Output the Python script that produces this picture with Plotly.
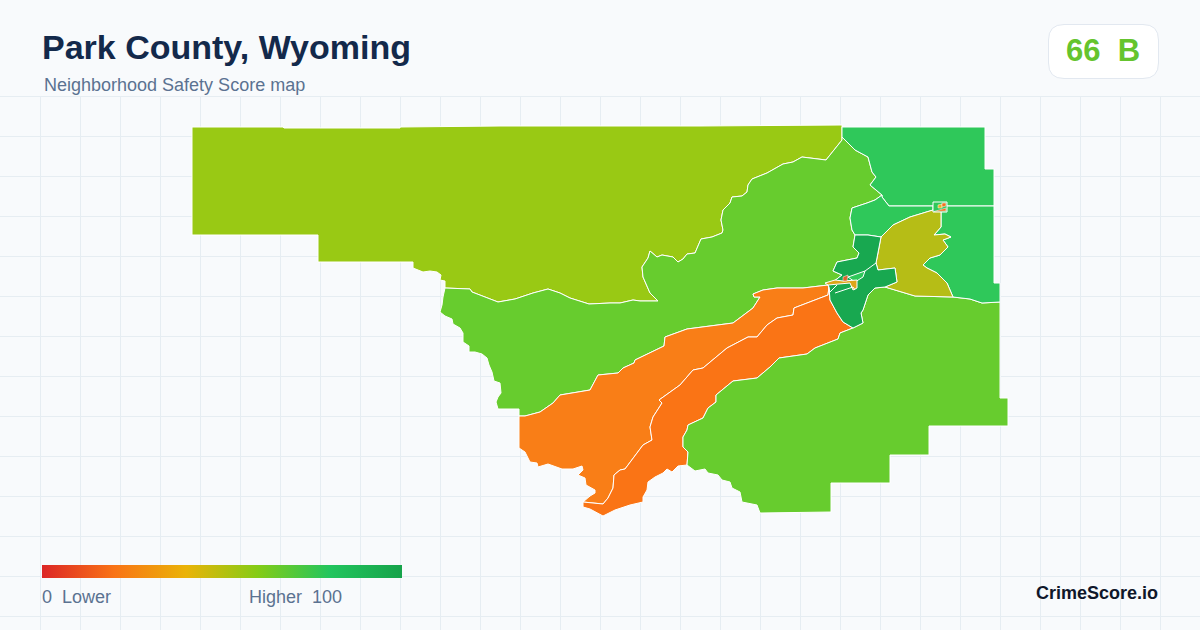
import plotly.graph_objects as go

# page colours
BG = "#f8fafc"
GRID = "#e6edf2"
NAVY = "#13294b"
SLATE = "#5b7291"

# map is traced in picture coordinates, borders shared between areas live in their own lists
nw_lime_border = [(842, 137), (842, 140), (826, 160), (808, 158), (802, 157), (793, 162), (783, 164), (767, 173),
                  (752, 179), (748, 185), (747, 192), (742, 196), (732, 197), (730, 203), (723, 210), (721, 220),
                  (723, 230), (722, 233), (712, 237), (701, 239), (695, 253), (687, 254), (683, 259), (678, 262),
                  (673, 257), (662, 255), (657, 257), (650, 251), (648, 258), (642, 267), (643, 277), (650, 293),
                  (658, 301), (640, 301), (633, 300), (620, 303), (610, 303), (589, 304), (580, 301), (570, 298),
                  (560, 293), (548, 289), (533, 293), (515, 299), (498, 302), (485, 297), (472, 292), (470, 289),
                  (455, 288), (445, 288)]
nw_outer = [(445, 281), (440, 280), (441, 275), (437, 272), (430, 271), (423, 272), (413, 268), (413, 262),
            (318, 262), (318, 235), (192, 235), (192, 127), (283, 127), (284, 128), (400, 128), (400, 127),
            (500, 126), (700, 126), (842, 125), (842, 137)]
lime_ne_border = [(842, 137), (855, 150), (868, 157), (872, 172), (876, 177), (870, 185), (882, 195)]
lime_band_border = [(882, 195), (875, 200), (867, 203), (852, 208), (850, 218), (852, 230), (855, 235)]
lime_dark_border = [(855, 235), (853, 247), (859, 253), (857, 258), (837, 262), (833, 271), (842, 275), (833, 282),
                    (827, 283)]
lime_orange_border = [(828, 285), (803, 288), (777, 288), (763, 290), (753, 294), (754, 297), (760, 297), (753, 308),
                      (733, 323), (708, 326), (687, 329), (665, 337), (664, 346), (635, 360), (634, 363), (623, 368),
                      (618, 373), (598, 375), (590, 390), (560, 395), (553, 403), (540, 412), (525, 416), (519, 416)]
lime_outer = [(519, 409), (498, 409), (496, 402), (498, 397), (501, 393), (500, 383), (494, 381), (492, 372),
              (489, 365), (487, 358), (482, 354), (475, 352), (469, 352), (469, 346), (463, 342), (463, 333),
              (460, 328), (453, 324), (452, 319), (445, 316), (440, 312), (442, 305), (443, 297), (445, 288)]
west_outer = [(519, 430), (519, 448), (525, 452), (530, 462), (537, 463), (538, 467), (548, 464), (557, 467),
              (562, 469), (573, 469), (582, 466), (583, 470), (578, 475), (585, 478), (586, 485), (595, 490),
              (595, 493), (590, 496), (583, 502)]
orange_border = [(583, 502), (593, 503), (603, 504), (608, 498), (613, 488), (614, 475), (620, 470), (625, 469),
                 (633, 458), (643, 445), (652, 440), (651, 432), (650, 427), (653, 417), (662, 403), (659, 400),
                 (680, 385), (693, 370), (703, 368), (727, 348), (748, 337), (757, 337), (767, 325), (777, 318),
                 (793, 315), (794, 308), (807, 303), (828, 295), (829, 287)]
mid_south = [(583, 502), (583, 507), (590, 509), (603, 516), (615, 510), (630, 505), (643, 502), (643, 497),
             (647, 490), (648, 482), (655, 477), (663, 473), (667, 469), (672, 472), (678, 466), (687, 465)]
mid_se_border = [(687, 465), (688, 452), (683, 447), (683, 437), (687, 430), (688, 425), (703, 418), (708, 408),
                 (716, 402), (716, 395), (733, 381), (757, 378), (770, 367), (779, 358), (807, 354), (815, 348),
                 (838, 339), (840, 333), (853, 328)]
mid_dark_border = [(853, 328), (843, 322), (837, 313), (830, 300), (829, 287)]
se_outer = [(687, 465), (695, 471), (705, 469), (708, 473), (718, 475), (722, 480), (730, 482), (732, 488),
            (740, 492), (742, 502), (757, 505), (760, 513), (785, 513), (831, 512), (831, 483), (890, 483),
            (890, 455), (929, 455), (929, 426), (1008, 426), (1008, 398), (1000, 398), (1000, 302)]
se_north = [(1000, 302), (982, 303), (970, 299), (953, 297)]
se_olive = [(953, 297), (915, 296), (885, 287)]
se_dark = [(885, 287), (875, 288), (868, 295), (863, 310), (861, 313), (863, 323), (853, 328)]
olive_ne_border = [(953, 297), (947, 283), (937, 273), (927, 268), (923, 265), (930, 258), (940, 255), (948, 247),
                   (943, 240), (951, 237), (945, 234), (934, 235), (941, 227), (941, 211)]
olive_band_border = [(941, 211), (933, 210), (910, 217), (893, 225), (881, 237)]
dark_olive_border = [(881, 237), (878, 253), (876, 263), (878, 270), (895, 268), (897, 282), (885, 287)]
ne_north_outer = [(842, 127), (985, 127), (985, 169), (994, 169), (994, 206)]
ne_east_outer = [(994, 206), (994, 283), (1000, 283), (1000, 302)]
ne_split = [(994, 206), (947, 206), (933, 206), (889, 206), (882, 197)]

town_gold = [(825, 283), (835, 280), (843, 281), (857, 280), (857, 288), (853, 290), (850, 283), (835, 284), (828, 285)]
town_red = [(843, 277), (848, 275), (847, 281), (843, 281)]
town_green = [(848, 277), (865, 271), (863, 277), (855, 282)]
dark_inner_line = [(876, 263), (865, 271)]
dark_inner_line2 = [(828, 285), (830, 292), (837, 285)]
dark_inner_line3 = [(835, 293), (853, 287), (855, 290)]
box_square = [(933, 202), (947, 202), (947, 212), (933, 212)]
box_wedge = [(934, 211.5), (946, 208), (946, 211)]
box_gold = [(938, 205), (942, 204), (942, 208), (938, 208)]
box_orange = [(942, 203), (946, 203), (946, 206), (942, 207)]

# area fill colours
areas = [
    ("nw", nw_lime_border + nw_outer, "#99c914"),
    ("lime", nw_lime_border + lime_outer[::-1] + lime_orange_border[::-1] + lime_dark_border[::-1]
     + lime_band_border[::-1] + lime_ne_border[::-1], "#67cc2e"),
    ("west", lime_orange_border + west_outer + orange_border[1:], "#f97e17"),
    ("mid", orange_border + mid_dark_border[::-1] + mid_se_border[::-1] + mid_south[::-1], "#fa7415"),
    ("se", mid_se_border + se_dark[::-1] + se_olive[::-1] + se_north[::-1] + se_outer[::-1], "#67cc2e"),
    ("ne_top", ne_north_outer + ne_split + lime_ne_border[::-1], "#2fc85a"),
    ("ne_bottom", ne_east_outer + se_north + olive_ne_border + [(941, 206)], "#2fc85a"),
    ("band", lime_band_border[::-1] + ne_split[::-1][:3] + olive_band_border[1:] + [(868, 235)], "#2fc85a"),
    ("olive", olive_ne_border + olive_band_border + dark_olive_border + se_olive[::-1], "#b6bd16"),
    ("dark", [(855, 235), (868, 235)] + dark_olive_border + se_dark + mid_dark_border
     + lime_dark_border[::-1], "#18a850"),
    ("town_green", town_green, "#2fc85a"),
    ("town_gold", town_gold, "#dca51a"),
    ("town_red", town_red, "#e2602a"),
    ("box", box_square, "#2fc85a"),
    ("box_wedge", box_wedge, "#f0701e"),
    ("box_gold", box_gold, "#e6b422"),
    ("box_orange", box_orange, "#f0701e"),
]
thin_line_areas = ["box_wedge", "box_gold", "box_orange", "town_red"]
inner_lines = [dark_inner_line, dark_inner_line2, dark_inner_line3]

grid_x = list(range(40, 1200, 40))
grid_y = list(range(96, 630, 40))

# legend ramp
ramp_stops = [0, 0.2, 0.4, 0.6, 0.8, 1]
ramp_colors = ["#dc2626", "#f97316", "#eab308", "#84cc16", "#22c55e", "#16a34a"]
ramp_x = [42, 402, 402, 42, 42]
ramp_y = [565, 565, 578, 578, 565]

fig = go.Figure()

for name, pts, color in areas:
    width = 0.5 if name in thin_line_areas else 1
    fig.add_trace(go.Scatter(
        x=[p[0] for p in pts] + [pts[0][0]],
        y=[p[1] for p in pts] + [pts[0][1]],
        mode="lines", fill="toself", fillcolor=color,
        line=dict(color="white", width=width), name=name, hoverinfo="skip",
    ))
for pts in inner_lines:
    fig.add_trace(go.Scatter(x=[p[0] for p in pts], y=[p[1] for p in pts], mode="lines",
                             line=dict(color="white", width=1), hoverinfo="skip"))

fig.add_trace(go.Scatter(
    x=ramp_x, y=ramp_y, mode="lines", fill="toself", line=dict(width=0), hoverinfo="skip",
    fillgradient=dict(type="horizontal", colorscale=[[s, c] for s, c in zip(ramp_stops, ramp_colors)]),
))

shapes = []
for gx in grid_x:
    shapes.append(dict(type="line", x0=gx + 0.5, x1=gx + 0.5, y0=96, y1=630, layer="below",
                       line=dict(color=GRID, width=1)))
for gy in grid_y:
    shapes.append(dict(type="line", x0=0, x1=1200, y0=gy + 0.5, y1=gy + 0.5, layer="below",
                       line=dict(color=GRID, width=1)))
# score badge
shapes.append(dict(type="path", layer="below", fillcolor="white", line=dict(color="#e2e8f0", width=1),
                   path="M 1064 24.5 H 1143 Q 1158.5 24.5 1158.5 40 V 63 Q 1158.5 78.5 1143 78.5 H 1064 "
                        "Q 1048.5 78.5 1048.5 63 V 40 Q 1048.5 24.5 1064 24.5 Z"))

font = "Liberation Sans"
annotations = [
    dict(x=41, y=47, text="<b>Park County, Wyoming</b>", xanchor="left", font=dict(size=34, color=NAVY, family=font)),
    dict(x=43, y=85, text="Neighborhood Safety Score map", xanchor="left", font=dict(size=18, color=SLATE, family=font)),
    dict(x=1103, y=50, text="<b>66\u00a0\u00a0B</b>", xanchor="center", font=dict(size=31, color="#65c42e", family=font)),
    dict(x=41, y=597, text="0\u00a0\u00a0Lower", xanchor="left", font=dict(size=18, color=SLATE, family=font)),
    dict(x=343, y=597, text="Higher\u00a0\u00a0100", xanchor="right", font=dict(size=18, color=SLATE, family=font)),
    dict(x=1159, y=593, text="<b>CrimeScore.io</b>", xanchor="right", font=dict(size=18, color="#0f172a", family=font)),
]
for a in annotations:
    a.update(xref="x", yref="y", showarrow=False, yanchor="middle", borderpad=0)

fig.update_layout(
    width=1200, height=630, margin=dict(l=0, r=0, t=0, b=0),
    paper_bgcolor=BG, plot_bgcolor=BG, showlegend=False,
    xaxis=dict(range=[0, 1200], visible=False, fixedrange=True),
    yaxis=dict(range=[630, 0], visible=False, fixedrange=True),
    shapes=shapes, annotations=annotations,
)

fig.write_html("out.html", config={"displayModeBar": False},
               post_script="document.body.style.margin='0';document.body.style.background='%s';" % BG)
